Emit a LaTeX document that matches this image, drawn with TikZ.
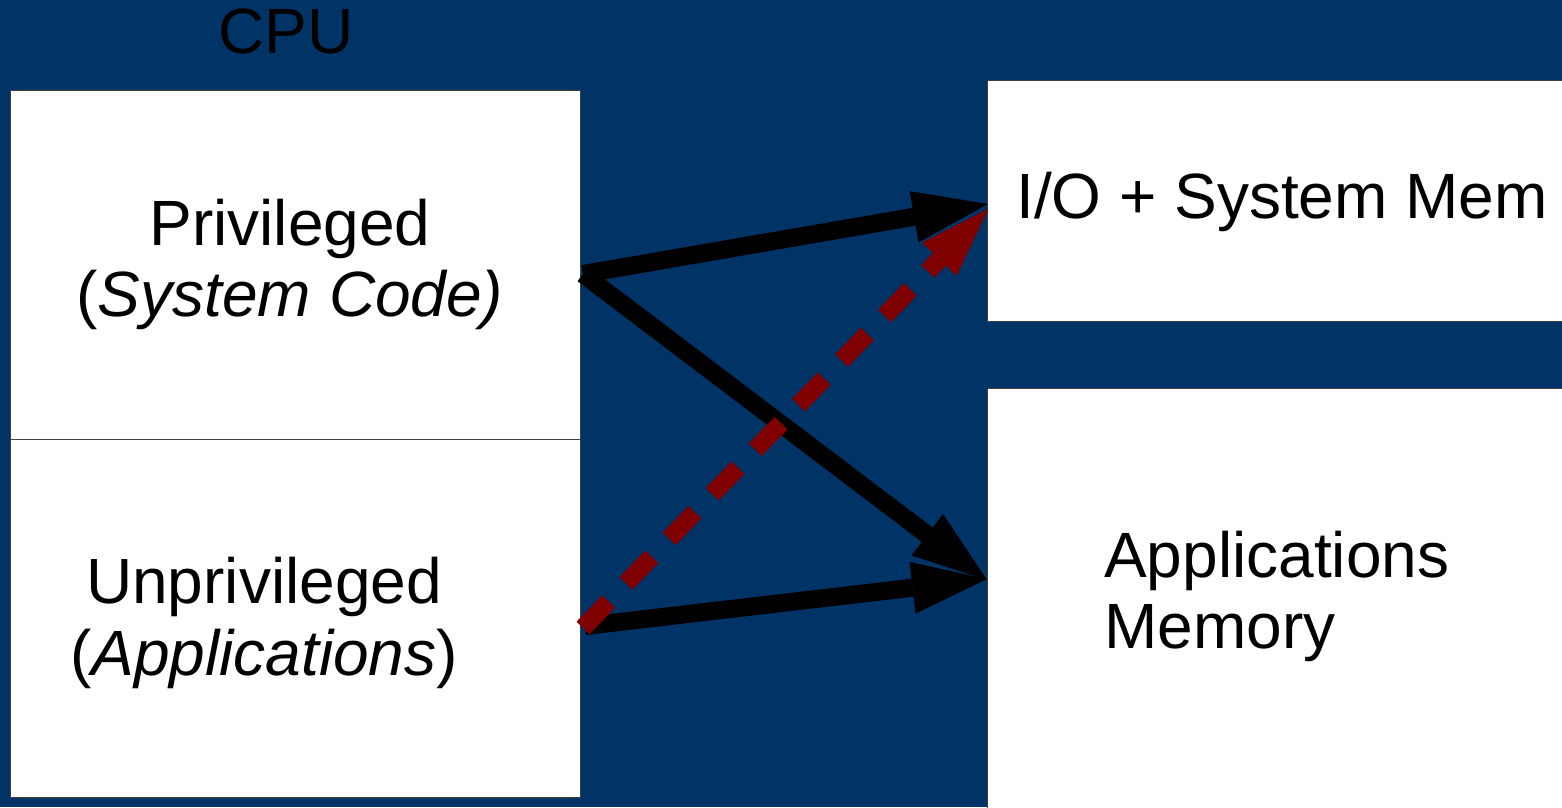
\documentclass[tikz,border=0pt]{standalone}
\usepackage{fontspec}
\setmainfont{Liberation Sans}
\usetikzlibrary{arrows.meta}
\definecolor{navy}{HTML}{003366}
\definecolor{darkred}{HTML}{800000}

\begin{document}
\begin{tikzpicture}[x=1pt,y=-1pt,
  panel/.style={draw=black!75, line width=1.2pt, fill=white, inner sep=0pt, anchor=north west},
  lbl/.style={font=\fontsize{64}{72}\selectfont, text=black, inner sep=0pt},
  link/.style={draw=black, line width=18pt, -{Triangle[length=75pt,width=52pt,line width=0pt]}},
  breach/.style={draw=darkred, line width=18pt, dash pattern=on 37pt off 25pt,
                 -{Triangle[length=70pt,width=48pt,line width=0pt]}}]

% page and background
\useasboundingbox (0,0) rectangle (1562,807);
\fill[navy] (0,0) rectangle (1562,807);

% CPU with its two privilege levels
\node[lbl, anchor=base] (cpu) at (286,53) {CPU};
\node[panel, minimum width=570pt, minimum height=349pt] (priv) at (10,90) {};
\node[panel, minimum width=570pt, minimum height=358pt] (unpriv) at (10,439) {};

\node[lbl, anchor=base] (privA) at (290,245) {Privileged};
\node[lbl, anchor=base] (privB) at (290,316) {(\textit{System Code)}};
\node[lbl, anchor=base] (unprivA) at (264,603) {Unprivileged};
\node[lbl, anchor=base] (unprivB) at (264,675) {(\textit{Applications})};

% memory regions
\begin{scope}
\clip (0,0) rectangle (1562,807);
\node[panel, minimum width=600pt, minimum height=241pt] (io) at (987,80) {};
\node[panel, minimum width=600pt, minimum height=440pt] (app) at (987,388) {};
\end{scope}

\node[lbl, anchor=base west] (ioT) at (1016,218) {I/O + System Mem};
\node[lbl, anchor=base west] (appA) at (1104,577) {Applications};
\node[lbl, anchor=base west] (appB) at (1104,648) {Memory};

% connector end points on the box borders
\coordinate (p1) at (583,274);
\coordinate (u1) at (585,626);
\coordinate (u2) at (583,628);
\coordinate (io1) at (988,204);
\coordinate (io2) at (988,209);
\coordinate (app1) at (987,580);
\coordinate (app2) at (987,579);

% allowed accesses
\draw[link] (p1) -- (io1);
\draw[link] (p1) -- (app1);
\draw[link] (u1) -- (app2);

% forbidden access
\draw[breach] (u2) -- (io2);
\end{tikzpicture}
\end{document}
